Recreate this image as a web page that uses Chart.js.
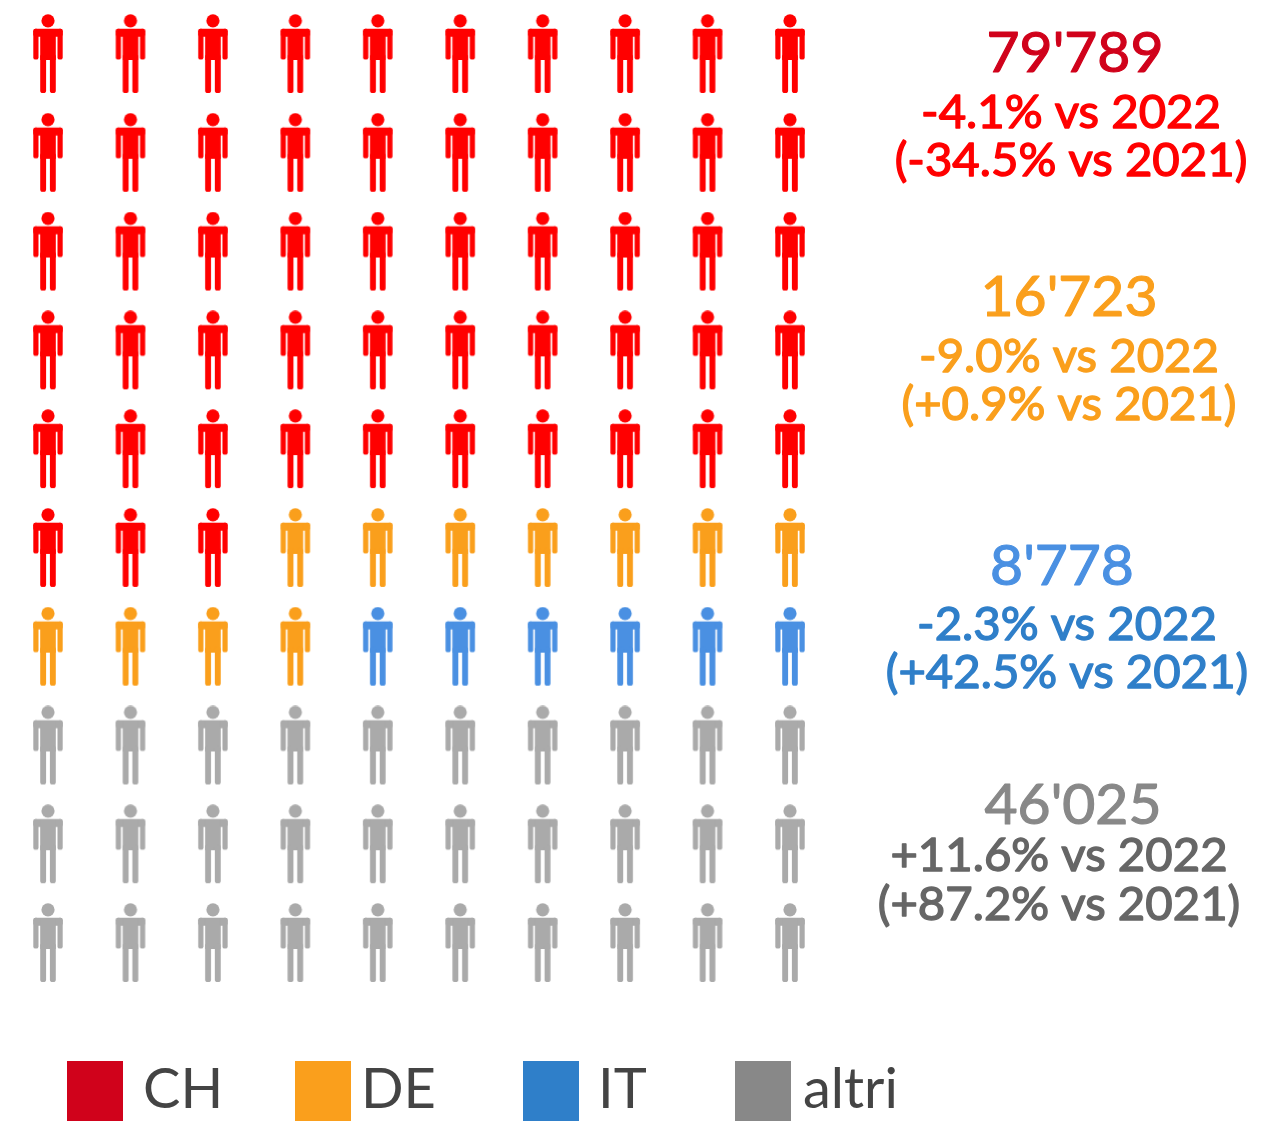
<!DOCTYPE html>
<html><head><meta charset="utf-8">
<script src="https://cdn.jsdelivr.net/npm/chart.js@4"></script>
<style>html,body{margin:0;padding:0;background:#fff;overflow:hidden}#w{width:1281px;height:1122px;position:relative}</style>
</head><body><div id="w"><canvas id="c"></canvas></div>
<script>
const categories = ["CH","DE","IT","altri"];
const personCounts = [53,11,6,30];
const totals = ["79'789","16'723","8'778","46'025"];
const vs2022 = ["-4.1% vs 2022","-9.0% vs 2022","-2.3% vs 2022","+11.6% vs 2022"];
const vs2021 = ["(-34.5% vs 2021)","(+0.9% vs 2021)","(+42.5% vs 2021)","(+87.2% vs 2021)"];
const iconColors = ["#ff0000","#fa9f1c","#4a90e2","#aaaaaa"];
const totalColors = ["#d0021b","#fa9f1c","#4a90e2","#888888"];
const deltaColors = ["#ff0000","#fa9f1c","#2f7fc9","#666666"];
const legendColors = ["#d0021b","#fa9f1c","#2f7fc9","#888888"];
const columns = 10, rows = 10;

function person(color){
  const k=document.createElement('canvas'); k.width=32; k.height=80;
  const g=k.getContext('2d'); g.fillStyle=color;
  g.beginPath(); g.arc(16,6.8,6.6,0,Math.PI*2); g.fill();
  g.beginPath(); g.roundRect(1.3,14.8,29.4,8,2.4); g.fill();
  g.beginPath(); g.roundRect(1.3,14.8,5.2,30.8,2.2); g.fill();
  g.beginPath(); g.roundRect(25.5,14.8,5.2,30.8,2.2); g.fill();
  g.fillRect(8.2,15,15.6,31);
  g.beginPath(); g.roundRect(8.2,40,5.9,39,2.6); g.fill();
  g.beginPath(); g.roundRect(17.9,40,5.9,39,2.6); g.fill();
  return k;
}
let idx=0;
const datasets = categories.map((name,i)=>{
  const data=[];
  for(let n=0;n<personCounts[i];n++,idx++) data.push({x:idx%columns,y:Math.floor(idx/columns)});
  return {label:name,data,pointStyle:person(iconColors[i]),pointRadius:16,clip:false,showLine:false};
});
const textPlugin={id:'texts',afterDraw(ch){
  const g=ch.ctx; g.save(); g.textBaseline='alphabetic'; g.lineJoin='round';
  const F='Lato, sans-serif';
  const cx=[1075,1069,1062,1073], cx1=[1071,1069,1067,1059], cx2=[1071,1069,1067,1059];
  const y0=[72,316,585,824], y1=[128,372,640,871], y2=[176,420,688,920];
  const put=(t,x,y,c,w)=>{g.fillStyle=c;g.strokeStyle=c;g.lineWidth=w;g.fillText(t,x,y);if(w)g.strokeText(t,x,y);};
  categories.forEach((_,i)=>{
    g.textAlign='center';
    g.font='400 57px '+F; put(totals[i],cx[i],y0[i],totalColors[i],1.2);
    g.font='400 47.3px '+F;
    put(vs2022[i],cx1[i],y1[i],deltaColors[i],1.4); put(vs2021[i],cx2[i],y2[i],deltaColors[i],1.4);
  });
  const bx=[67,295,523,735], tx=[143,361,598,803];
  g.fontKerning='none';
  categories.forEach((name,i)=>{
    g.fillStyle=legendColors[i]; g.fillRect(bx[i],1061,56,60);
    g.textAlign='left'; g.font='400 56px '+F; g.fillStyle='#444444'; g.fillText(name,tx[i],1108);
  });
  g.restore();
}};
new Chart(document.getElementById('c'),{
  type:'scatter',
  data:{datasets},
  options:{responsive:true,maintainAspectRatio:false,animation:false,
    layout:{padding:{left:48,right:491,top:54,bottom:179}},
    plugins:{legend:{display:false},tooltip:{enabled:false}},
    scales:{
      x:{type:'linear',min:0,max:columns-1,display:false},
      y:{type:'linear',min:0,max:rows-1,reverse:true,display:false}
    }},
  plugins:[textPlugin]
});
</script></body></html>
